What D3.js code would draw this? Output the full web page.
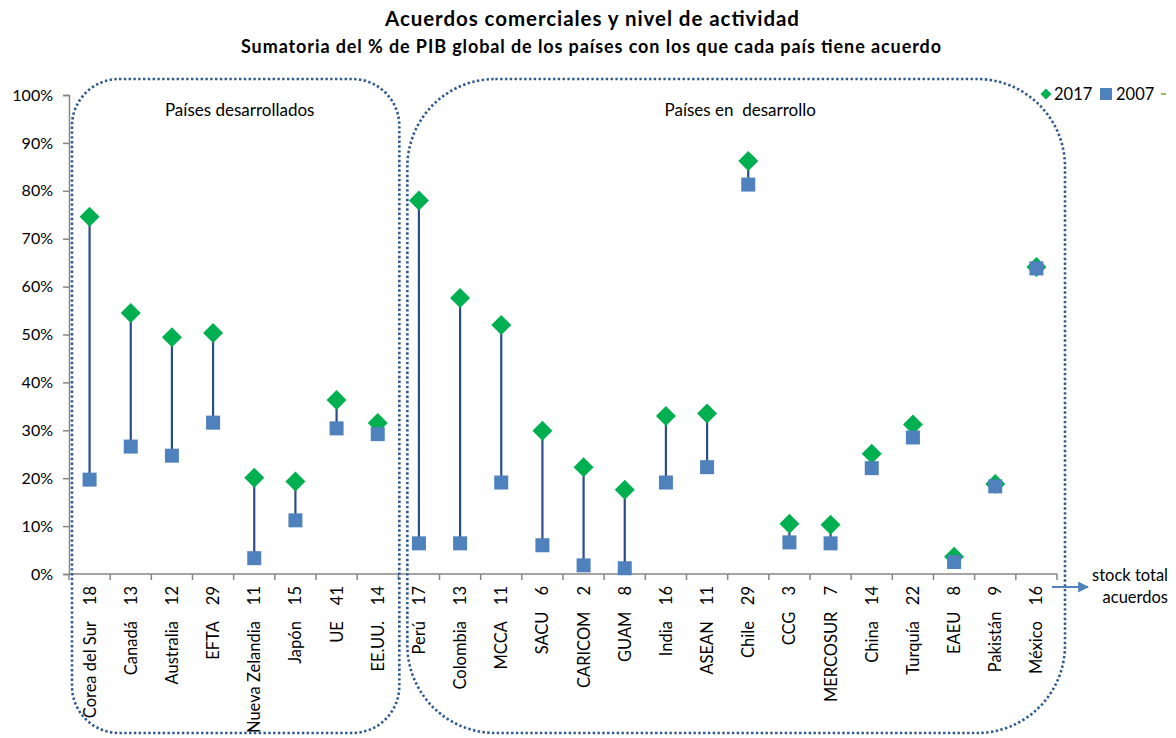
<!DOCTYPE html>
<html>
<head>
<meta charset="utf-8">
<script src="https://cdn.jsdelivr.net/npm/d3@7"></script>
<style>
body { margin: 0; background: #fff; }
text { font-family: Lato, "Open Sans", sans-serif; fill: #000; }
</style>
</head>
<body>
<div id="canvas"></div>
<script>
var width = 1176;
var height = 738;

// categories, agreement counts and values (% of world GDP)
const paises = ["Corea del Sur", "Canadá", "Australia", "EFTA", "Nueva Zelandia", "Japón", "UE", "EE.UU.",
    "Perú", "Colombia", "MCCA", "SACU", "CARICOM", "GUAM", "India", "ASEAN", "Chile",
    "CCG", "MERCOSUR", "China", "Turquía", "EAEU", "Pakistán", "México"];
const acuerdos = [18, 13, 12, 29, 11, 15, 41, 14, 17, 13, 11, 6, 2, 8, 16, 11, 29, 3, 7, 14, 22, 8, 9, 16];
const v2017 = [74.6, 54.5, 49.4, 50.3, 20.1, 19.3, 36.3, 31.5, 78.0, 57.6, 52.0, 29.9, 22.3, 17.6, 33.0, 33.5, 86.2,
    10.5, 10.3, 25.1, 31.2, 3.6, 18.8, 64.1];
const v2007 = [19.7, 26.6, 24.7, 31.6, 3.3, 11.2, 30.4, 29.2, 6.4, 6.4, 19.1, 6.0, 1.8, 1.2, 19.1, 22.3, 81.3,
    6.6, 6.4, 22.1, 28.5, 2.5, 18.3, 63.8];
const yTicks = [0, 10, 20, 30, 40, 50, 60, 70, 80, 90, 100];

const data = paises.map((p, i) => ({ pais: p, n: acuerdos[i], a: v2017[i], b: v2007[i] }));

var svg = d3.select("#canvas").append("svg")
    .attr("width", width)
    .attr("height", height)
    .style("background-color", "white");

const mLeft = 69, mRight = 1057, mTop = 95, mBottom = 574;

const xScale = d3.scaleBand()
    .domain(paises)
    .range([mLeft, mRight]);

const yScale = d3.scaleLinear()
    .domain([0, 100])
    .range([mBottom, mTop]);

// titles
svg.append("text")
    .attr("x", 592).attr("y", 26)
    .attr("text-anchor", "middle")
    .attr("textLength", 414).attr("lengthAdjust", "spacing")
    .style("font-weight", "bold").style("font-size", "20.5px")
    .text("Acuerdos comerciales y nivel de actividad");
svg.append("text")
    .attr("x", 591).attr("y", 53)
    .attr("text-anchor", "middle")
    .attr("textLength", 700).attr("lengthAdjust", "spacing")
    .style("font-weight", "bold").style("font-size", "18px")
    .text("Sumatoria del % de PIB global de los países con los que cada país tiene acuerdo");

// y axis
const yAxis = svg.append("g")
    .attr("transform", "translate(" + mLeft + ",0)")
    .call(d3.axisLeft(yScale).tickValues(yTicks).tickFormat(d => d + "%").tickSize(6).tickPadding(10));
yAxis.select(".domain").attr("stroke", "#868686").attr("stroke-width", 1.5);
yAxis.selectAll(".tick line").attr("stroke", "#868686").attr("stroke-width", 1.5);
yAxis.selectAll(".tick text").style("font-size", "16px").style("font-family", "Lato, sans-serif");

// x axis (ticks at band edges)
const xAxisG = svg.append("g").attr("transform", "translate(0," + mBottom + ")");
xAxisG.append("line")
    .attr("x1", mLeft).attr("x2", mRight)
    .attr("stroke", "#868686").attr("stroke-width", 1.5);
const edges = paises.map(p => xScale(p)).concat([mRight]);
xAxisG.selectAll(".xt")
    .data(edges)
    .enter().append("line")
    .attr("x1", d => d).attr("x2", d => d)
    .attr("y1", 0).attr("y2", 6)
    .attr("stroke", "#868686").attr("stroke-width", 1.5);

// category labels: name + count, rotated
const lab = svg.selectAll(".xlab")
    .data(data)
    .enter().append("text")
    .attr("class", "xlab")
    .attr("text-anchor", "end")
    .attr("transform", d => "translate(" + (xScale(d.pais) + xScale.bandwidth() / 2 + 6) + "," + (mBottom + 12) + ") rotate(-90)")
    .style("font-size", "16.5px");
lab.append("tspan").text(d => d.pais);
lab.append("tspan").attr("dx", 16).text(d => d.n);

// high-low lines
svg.selectAll(".hl")
    .data(data)
    .enter().append("line")
    .attr("x1", d => xScale(d.pais) + xScale.bandwidth() / 2)
    .attr("x2", d => xScale(d.pais) + xScale.bandwidth() / 2)
    .attr("y1", d => yScale(d.a))
    .attr("y2", d => yScale(d.b))
    .attr("stroke", "#2B4C86")
    .attr("stroke-width", 2.2);

// 2017 diamonds
const diamond = d3.symbol().type(d3.symbolSquare).size(200);
svg.selectAll(".d17")
    .data(data)
    .enter().append("path")
    .attr("d", diamond)
    .attr("transform", d => "translate(" + (xScale(d.pais) + xScale.bandwidth() / 2) + "," + yScale(d.a) + ") rotate(45)")
    .attr("fill", "#00B050");

// 2007 squares
svg.selectAll(".s07")
    .data(data)
    .enter().append("rect")
    .attr("x", d => xScale(d.pais) + xScale.bandwidth() / 2 - 7)
    .attr("y", d => yScale(d.b) - 7)
    .attr("width", 14).attr("height", 14)
    .attr("fill", "#4F81BD");

// group frames
const frames = [
    { x0: xScale("Corea del Sur") + 3, x1: xScale("Perú") + 1, r: 47, label: "Países desarrollados" },
    { x0: xScale("Perú") + 9, x1: mRight + 8, r: 88, label: "Países en\u00a0 desarrollo" }
];
svg.selectAll(".frame")
    .data(frames)
    .enter().append("rect")
    .attr("x", d => d.x0).attr("y", 79)
    .attr("width", d => d.x1 - d.x0).attr("height", 733 - 79)
    .attr("rx", d => d.r).attr("ry", d => d.r)
    .attr("fill", "none")
    .attr("stroke", "#2E5A92")
    .attr("stroke-width", 2.6)
    .attr("stroke-dasharray", "2.4 2.4");
svg.selectAll(".flab")
    .data(frames)
    .enter().append("text")
    .attr("x", d => (d.x0 + d.x1) / 2 + 4)
    .attr("y", 116)
    .attr("text-anchor", "middle")
    .style("font-size", "17px")
    .text(d => d.label);

// legend
const lg = svg.append("g");
lg.append("path").attr("d", diamond).attr("transform", "translate(1046,94) rotate(45) scale(0.55)").attr("fill", "#00B050");
lg.append("text").attr("x", 1054).attr("y", 100).style("font-size", "16.5px").text("2017");
lg.append("rect").attr("x", 1100).attr("y", 88).attr("width", 12).attr("height", 12).attr("fill", "#4F81BD");
lg.append("text").attr("x", 1116).attr("y", 100).style("font-size", "16.5px").text("2007");
lg.append("line").attr("x1", 1161).attr("x2", 1166).attr("y1", 94).attr("y2", 94).attr("stroke", "#9BBB59").attr("stroke-width", 2);

// axis note with arrow
svg.append("defs").append("marker")
    .attr("id", "arr").attr("viewBox", "0 0 10 10").attr("refX", 9).attr("refY", 5)
    .attr("markerWidth", 5).attr("markerHeight", 5).attr("orient", "auto")
    .append("path").attr("d", "M0,0L10,5L0,10z").attr("fill", "#4F81BD");
svg.append("line")
    .attr("x1", 1052).attr("x2", 1088).attr("y1", 587).attr("y2", 587)
    .attr("stroke", "#4F81BD").attr("stroke-width", 2.2)
    .attr("marker-end", "url(#arr)");
svg.append("text").attr("x", 1168).attr("y", 581).attr("text-anchor", "end").style("font-size", "16.5px").text("stock total");
svg.append("text").attr("x", 1168).attr("y", 603).attr("text-anchor", "end").style("font-size", "16.5px").text("acuerdos");
</script>
</body>
</html>
